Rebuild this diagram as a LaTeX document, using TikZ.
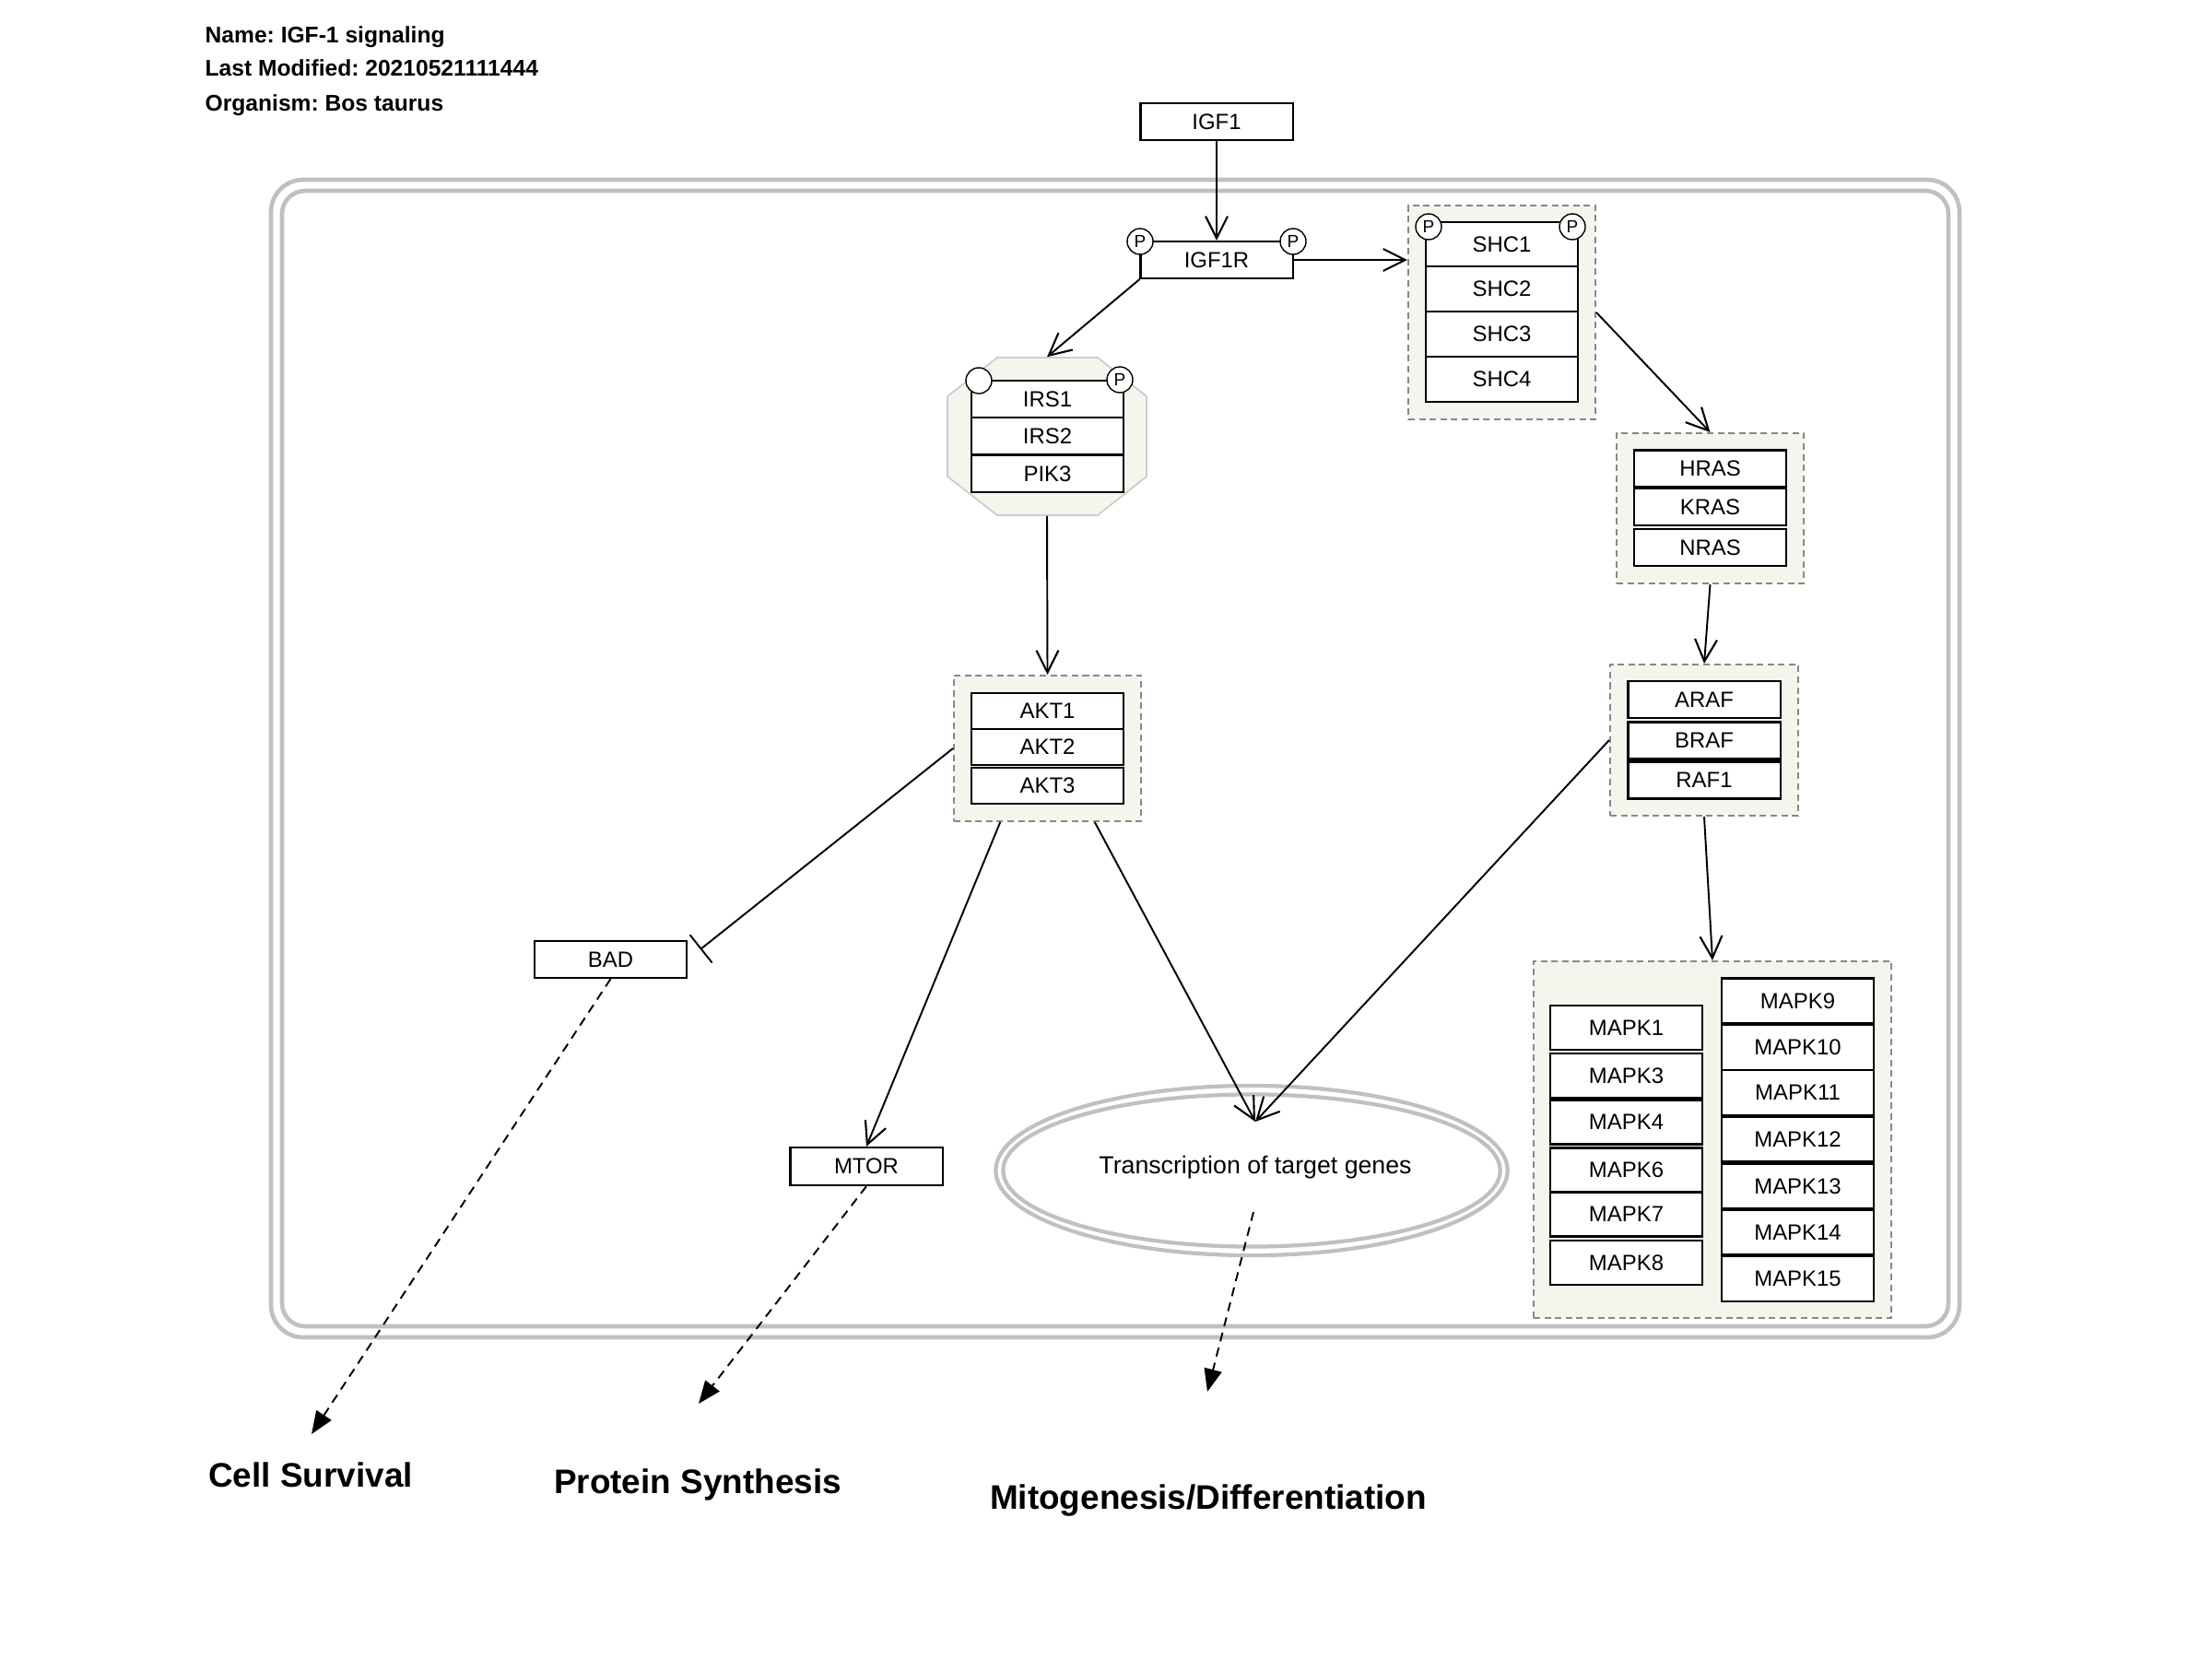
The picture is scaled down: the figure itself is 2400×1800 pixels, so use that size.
\documentclass[tikz,border=0pt]{standalone}
\usepackage{fontspec}
\setmainfont{Liberation Sans}
\usetikzlibrary{arrows.meta,calc,shapes.geometric}
\frenchspacing

\definecolor{grpfill}{RGB}{245,245,238}
\definecolor{grpline}{RGB}{136,136,136}
\definecolor{cellline}{RGB}{192,192,192}
\definecolor{octline}{RGB}{204,204,204}

\begin{document}
\begin{tikzpicture}[x=0.01cm,y=-0.01cm,
  gene/.style={draw=black, line width=0.6pt, fill=white, inner sep=0pt,
    font=\fontsize{6.8}{8}\selectfont, minimum width=1.65cm, minimum height=#1},
  gene/.default=0.4cm,
  grp/.style={draw=grpline, fill=grpfill, dash pattern=on 2pt off 1.3pt,
    line width=0.55pt, inner sep=0pt},
  octo/.style={draw=octline, fill=grpfill, line width=0.5pt},
  site/.style={circle, draw=black, fill=white, line width=0.4pt,
    minimum size=0.28cm, inner sep=0pt, font=\fontsize{5.4}{6}\selectfont},
  conv/.style={line width=0.55pt, -{Straight Barb[length=6.8pt,width=6.8pt,line width=0.6pt]}},
  inhib/.style={line width=0.55pt, -{Bar[width=11pt,line width=0.55pt]}, shorten >=5pt},
  effect/.style={line width=0.55pt, dash pattern=on 2.8pt off 2pt,
    -{Triangle[length=7pt,width=5.5pt]}},
  membrane/.style={draw=cellline, line width=1.3pt},
  title/.style={anchor=base west, inner sep=0pt, font=\bfseries\fontsize{7}{8}\selectfont},
  outcome/.style={anchor=base, inner sep=0pt, font=\bfseries\fontsize{10.5}{12}\selectfont}
]
% page
\fill[white] (0,0) rectangle (2400,1800);
\useasboundingbox (0,0) rectangle (2400,1800);

% header
\node[title] (hname) at (222,47) {Name: IGF-1 signaling};
\node[title] (hmod) at (222,83) {Last Modified: 20210521111444};
\node[title] (horg) at (222,121) {Organism: Bos taurus};

% cell membrane (double rounded outline)
\draw[membrane, rounded corners=0.35cm] (294,195) rectangle (2126,1451);
\draw[membrane, rounded corners=0.25cm] (306,207) rectangle (2114,1439);

% nucleus-like compartment
\node[ellipse, membrane, line width=1.2pt, minimum width=5.55cm, minimum height=1.84cm, inner sep=0pt] (tx) at (1358,1270) {};
\node[ellipse, membrane, line width=1.2pt, minimum width=5.39cm, minimum height=1.65cm, inner sep=0pt] (txin) at (1358,1270) {};
\node[font=\fontsize{7.6}{9}\selectfont, inner sep=0pt] (txlabel) at (1362,1267) {Transcription of target genes};
\coordinate (txtip) at (1362,1217);
\coordinate (txout) at (1360,1315);

% ligand and receptor
\node[gene] (igf1) at (1320,132) {IGF1};
\node[gene] (igf1r) at (1320,282) {IGF1R};
\node[site] (igf1rp1) at (1237,262) {P};
\node[site] (igf1rp2) at (1403,262) {P};

% SHC group
\node[grp, minimum width=2.03cm, minimum height=2.32cm] (shcgrp) at (1629.5,339) {};
\node[gene=0.485cm] (shc1) at (1629.5,265) {SHC1};
\node[gene=0.485cm] (shc2) at (1629.5,313.5) {SHC2};
\node[gene=0.485cm] (shc3) at (1629.5,362.5) {SHC3};
\node[gene=0.485cm] (shc4) at (1629.5,411.5) {SHC4};
\node[site] (shcp1) at (1550,246) {P};
\node[site] (shcp2) at (1706,246) {P};

% IRS / PI3K complex
\node[inner sep=0pt, minimum width=2.16cm, minimum height=1.71cm] (irsgrp) at (1136,473.5) {};
\draw[octo] (1082,388) -- (1191,388) -- (1244,430) -- (1244,517) -- (1191,559)
  -- (1082,559) -- (1028,517) -- (1028,430) -- cycle;
\node[gene] (irs1) at (1136.5,433) {IRS1};
\node[gene] (irs2) at (1136.5,473) {IRS2};
\node[gene] (pik3) at (1136.5,514) {PIK3};
\node[site] (irsc) at (1062,413) {};
\node[site] (irsp) at (1215,412) {P};

% AKT group
\node[grp, minimum width=2.03cm, minimum height=1.58cm] (aktgrp) at (1136.5,812) {};
\node[gene=0.39cm] (akt1) at (1136.5,771.5) {AKT1};
\node[gene=0.39cm] (akt2) at (1136.5,810.5) {AKT2};
\node[gene=0.39cm] (akt3) at (1136.5,852.5) {AKT3};

% AKT targets
\node[gene] (bad) at (662.5,1041) {BAD};
\node[gene=0.41cm] (mtor) at (940,1265.5) {MTOR};

% RAS group
\node[grp, minimum width=2.03cm, minimum height=1.63cm] (rasgrp) at (1855.5,551.5) {};
\node[gene] (hras) at (1855.5,508.5) {HRAS};
\node[gene] (kras) at (1855.5,550) {KRAS};
\node[gene] (nras) at (1855.5,594) {NRAS};

% RAF group
\node[grp, minimum width=2.04cm, minimum height=1.64cm] (rafgrp) at (1849,803) {};
\node[gene] (araf) at (1849,759) {ARAF};
\node[gene] (braf) at (1849,803.5) {BRAF};
\node[gene] (raf1) at (1849,846.5) {RAF1};

% MAPK group
\node[grp, minimum width=3.88cm, minimum height=3.87cm] (mapkgrp) at (1858,1236.5) {};
\node[gene=0.48cm] (mapk1) at (1764.5,1115) {MAPK1};
\node[gene=0.48cm] (mapk3) at (1764.5,1167) {MAPK3};
\node[gene=0.48cm] (mapk4) at (1764.5,1217.5) {MAPK4};
\node[gene=0.48cm] (mapk6) at (1764.5,1269.5) {MAPK6};
\node[gene=0.48cm] (mapk7) at (1764.5,1317.5) {MAPK7};
\node[gene=0.48cm] (mapk8) at (1764.5,1370) {MAPK8};
\node[gene=0.49cm] (mapk9) at (1950.5,1086) {MAPK9};
\node[gene=0.49cm] (mapk10) at (1950.5,1136.5) {MAPK10};
\node[gene=0.49cm] (mapk11) at (1950.5,1185.5) {MAPK11};
\node[gene=0.49cm] (mapk12) at (1950.5,1236) {MAPK12};
\node[gene=0.49cm] (mapk13) at (1950.5,1287) {MAPK13};
\node[gene=0.49cm] (mapk14) at (1950.5,1337) {MAPK14};
\node[gene=0.49cm] (mapk15) at (1950.5,1387.5) {MAPK15};

% outcomes
\coordinate (survtip) at (338,1556);
\coordinate (prottip) at (758,1523);
\coordinate (mitotip) at (1310,1510);
\node[outcome] (surv) at (337,1613) {Cell Survival};
\node[outcome] (prot) at (757,1620) {Protein Synthesis};
\node[outcome] (mito) at (1311,1637) {Mitogenesis/Differentiation};

% interactions
\draw[conv] (igf1.south) -- (igf1r.north);
\draw[conv] (igf1r.east) -- (igf1r.east -| shcgrp.west);
\draw[conv] (igf1r.south west) -- (irsgrp.north);
\draw[conv] (irsgrp.south) -- (aktgrp.north);
\draw[inhib] (aktgrp.west) -- (bad.east);
\draw[conv] ($(aktgrp.south west)!0.25!(aktgrp.south east)$) -- (mtor.north);
\draw[conv] ($(aktgrp.south west)!0.75!(aktgrp.south east)$) -- (txtip);
\draw[conv] (shcgrp.east) -- (rasgrp.north);
\draw[conv] (rasgrp.south) -- (rafgrp.north);
\draw[conv] (rafgrp.west) -- (txtip);
\draw[conv] (rafgrp.south) -- (mapkgrp.north);
\draw[effect] (bad.south) -- (survtip);
\draw[effect] (mtor.south) -- (prottip);
\draw[effect] (txout) -- (mitotip);
\end{tikzpicture}
\end{document}
